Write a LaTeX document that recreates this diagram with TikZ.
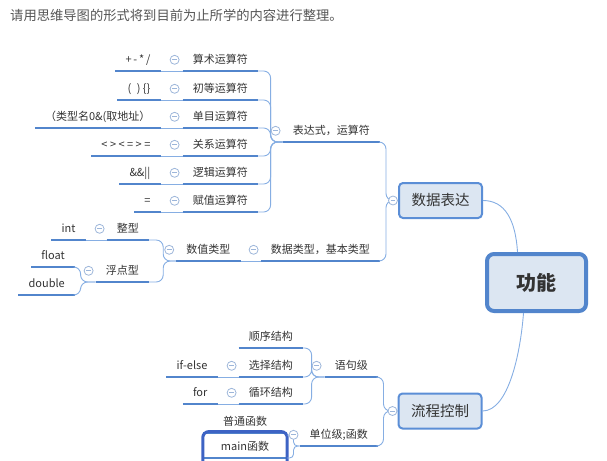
\documentclass[tikz,border=0pt]{standalone}
\usepackage{fontspec}
\setmainfont{Noto Sans CJK SC}
\usetikzlibrary{positioning}
\definecolor{ulc}{HTML}{5285CC}
\definecolor{lnc}{HTML}{86AEE3}
\definecolor{foldc}{HTML}{9DB6DA}
\definecolor{boxfill}{HTML}{DCE6F2}
\definecolor{boxline}{HTML}{5B8ED6}
\definecolor{selc}{HTML}{3D63C4}
\definecolor{txt}{HTML}{333333}
\definecolor{headc}{HTML}{555555}
\begin{document}
\begin{tikzpicture}[x=1pt,y=-1pt,
 uline/.style={draw=ulc,line width=2.8pt},
 topic/.style={font=\fontsize{11}{13}\selectfont,text=txt,inner xsep=10pt,inner ysep=0pt,minimum height=22pt,text height=9pt,text depth=2pt,
   append after command={(\tikzlastnode.south west) edge[uline] (\tikzlastnode.south east)}},
 branch/.style={draw=boxline,fill=boxfill,line width=2pt,rounded corners=4pt,font=\fontsize{14.5}{16}\selectfont,text=txt,minimum width=83pt,minimum height=35pt},
 rootbox/.style={draw=ulc,fill=boxfill,line width=4pt,rounded corners=7pt,font=\fontsize{20}{22}\selectfont\bfseries,text=txt,minimum width=99pt,minimum height=57pt},
 link/.style={draw=lnc,line width=0.9pt,rounded corners=7pt},
 fold/.style={circle,draw=foldc,fill=white,line width=0.8pt,minimum size=9pt,inner sep=0pt,
   path picture={\draw[foldc,line width=0.8pt] ([xshift=2.2pt]path picture bounding box.west) -- ([xshift=-2.2pt]path picture bounding box.east);}},
 selbox/.style={draw=selc,line width=3pt,rounded corners=6pt}]
\useasboundingbox (0,0) rectangle (607,460);
\node[anchor=west,inner sep=0pt,font=\fontsize{13.3}{15}\selectfont,text=headc] (title) at (10,15) {请用思维导图的形式将到目前为止所学的内容进行整理。};
% main nodes
\node[rootbox] (gn) at (536.5,282.5) {功能};
\node[branch] (sjbd) at (440.5,200.5) {数据表达};
\node[branch] (lckz) at (440,411) {流程控制};
% data side
\node[topic,anchor=south east] (bds) at (380,142) {表达式，运算符};
\node[topic,anchor=south east] (sjlx) at (380,261) {数据类型，基本类型};
\node[topic,anchor=south east] (suanshu) at (258,71) {算术运算符};
\node[topic,anchor=south east] (chudeng) at (258,100) {初等运算符};
\node[topic,anchor=south east] (danmu) at (258,128) {单目运算符};
\node[topic,anchor=south east] (guanxi) at (258,156) {关系运算符};
\node[topic,anchor=south east] (luoji) at (258,184) {逻辑运算符};
\node[topic,anchor=south east] (fuzhi) at (258,212) {赋值运算符};
\node[topic,left=22pt of suanshu] (ss1) {+\,-\,*\,/};
\node[topic,left=22pt of chudeng] (cd1) {(\enspace)\ \{\}};
\node[topic,left=22pt of danmu] (dm1) {（类型名0\&(取地址）};
\node[topic,left=22pt of guanxi] (gx1) {< > < = > =};
\node[topic,left=22pt of luoji] (lj1) {\&\&||};
\node[topic,left=22pt of fuzhi] (fz1) {=};
\node[topic,left=20pt of sjlx] (szlx) {数值类型};
\node[topic,anchor=south east] (zx) at (149,240) {整型};
\node[topic,anchor=south east] (fd) at (149,282) {浮点型};
\node[topic,left=21pt of zx] (int) {int};
\node[topic,anchor=south east] (flt) at (75,267) {float};
\node[topic,anchor=south east] (dbl) at (75,295) {double};
% flow side
\node[topic,anchor=south east] (yjj) at (378,377) {语句级};
\node[topic,anchor=south east] (dwj) at (378,446) {单位级;函数};
\node[topic,anchor=south east] (sx) at (303,348) {顺序结构};
\node[topic,anchor=south east] (xz) at (303,377) {选择结构};
\node[topic,anchor=south east] (xh) at (303,404) {循环结构};
\node[topic,left=21pt of xz] (ifelse) {if-else};
\node[topic,left=21pt of xh] (forl) {for};
\node[topic,anchor=south,minimum width=84pt] (ptfs) at (245,433) {普通函数};
\node[topic,anchor=south,minimum width=84pt] (mainfs) at (245,458) {main函数};
\draw[selbox] ([yshift=4pt]mainfs.north west) rectangle ([yshift=-14pt]mainfs.south east);
% links
\draw[link] (sjbd.east) .. controls +(22,0) and +(-2,-32) .. ([xshift=-19pt]gn.north);
\draw[link] (lckz.east) .. controls +(26,0) and +(-3,40) .. ([xshift=-13pt]gn.south);
\draw[link] (sjbd.west) -- ++(-12,0) |- (bds.south east);
\draw[link] (sjbd.west) -- ++(-12,0) |- (sjlx.south east);
\draw[link] (bds.south west) -- ++(-12,0) |- (suanshu.south east);
\draw[link] (bds.south west) -- ++(-12,0) |- (chudeng.south east);
\draw[link] (bds.south west) -- ++(-12,0) |- (danmu.south east);
\draw[link] (bds.south west) -- ++(-12,0) |- (guanxi.south east);
\draw[link] (bds.south west) -- ++(-12,0) |- (luoji.south east);
\draw[link] (bds.south west) -- ++(-12,0) |- (fuzhi.south east);
\draw[link] (suanshu.south west) -- (ss1.south east);
\draw[link] (chudeng.south west) -- (cd1.south east);
\draw[link] (danmu.south west) -- (dm1.south east);
\draw[link] (guanxi.south west) -- (gx1.south east);
\draw[link] (luoji.south west) -- (lj1.south east);
\draw[link] (fuzhi.south west) -- (fz1.south east);
\draw[link] (sjlx.south west) -- (szlx.south east);
\draw[link] (szlx.south west) -- ++(-13,0) |- (zx.south east);
\draw[link] (szlx.south west) -- ++(-13,0) |- (fd.south east);
\draw[link] (zx.south west) -- (int.south east);
\draw[link] (fd.south west) -- ++(-15,0) |- (flt.south east);
\draw[link] (fd.south west) -- ++(-15,0) |- (dbl.south east);
\draw[link] (lckz.west) -- ++(-14,0) |- (yjj.south east);
\draw[link] (lckz.west) -- ++(-14,0) |- (dwj.south east);
\draw[link] (yjj.south west) -- ++(-13,0) |- (sx.south east);
\draw[link] (yjj.south west) -- ++(-13,0) |- (xz.south east);
\draw[link] (yjj.south west) -- ++(-13,0) |- (xh.south east);
\draw[link] (xz.south west) -- (ifelse.south east);
\draw[link] (xh.south west) -- (forl.south east);
\draw[link,rounded corners=4pt] (dwj.south west) -- ++(-6,0) |- ([yshift=-2pt]ptfs.south east);
\draw[link,rounded corners=4pt] (dwj.south west) -- ++(-6,0) |- (mainfs.south east);
% fold buttons
\node[fold] (f1) at ([xshift=-5pt]sjbd.west) {};
\node[fold] (f2) at ([xshift=-5pt]lckz.west) {};
\node[fold] (f3) at ([xshift=-7pt]bds.west) {};
\node[fold] (f4) at ([xshift=-7pt]sjlx.west) {};
\node[fold] (f5) at ([xshift=-8pt]suanshu.west) {};
\node[fold] (f6) at ([xshift=-8pt]chudeng.west) {};
\node[fold] (f7) at ([xshift=-8pt]danmu.west) {};
\node[fold] (f8) at ([xshift=-8pt]guanxi.west) {};
\node[fold] (f9) at ([xshift=-8pt]luoji.west) {};
\node[fold] (f10) at ([xshift=-8pt]fuzhi.west) {};
\node[fold] (f11) at ([xshift=-7pt]szlx.west) {};
\node[fold] (f12) at ([xshift=-7pt]zx.west) {};
\node[fold] (f13) at ([xshift=-7pt]fd.west) {};
\node[fold] (f14) at ([xshift=-8pt]yjj.west) {};
\node[fold] (f15) at ([xshift=-7pt]xz.west) {};
\node[fold] (f16) at ([xshift=-7pt]xh.west) {};
\node[fold] (f17) at ([xshift=-6pt]dwj.west) {};
\end{tikzpicture}
\end{document}
